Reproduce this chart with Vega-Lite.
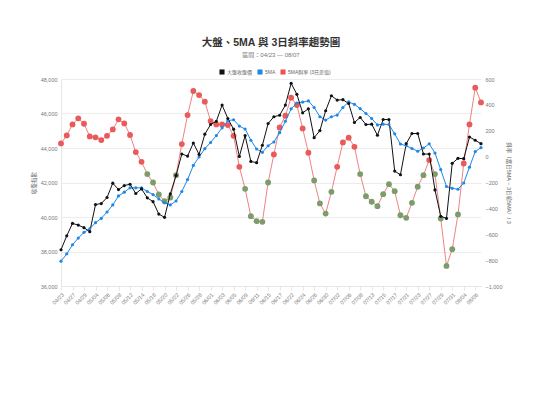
{
  "$schema": "https://vega.github.io/schema/vega-lite/v6.json",
  "width": 420,
  "height": 207,
  "autosize": {"type": "none"},
  "padding": {"left": 61, "top": 79, "right": 59, "bottom": 119},
  "background": "white",
  "title": {
    "text": "大盤、5MA 與 3日斜率趨勢圖",
    "subtitle": "區間：04/23 — 08/07",
    "anchor": "middle",
    "fontSize": 10.5,
    "fontWeight": "bold",
    "color": "#333333",
    "subtitleFontSize": 6,
    "subtitleColor": "#777777",
    "subtitlePadding": 4,
    "offset": 11
  },
  "data": {"values": [
    {"date": "04/23", "close": 38100, "ma5": 37440, "slope": 102},
    {"date": "04/24", "close": 38910, "ma5": 37860, "slope": 164},
    {"date": "04/27", "close": 39630, "ma5": 38390, "slope": 249},
    {"date": "04/28", "close": 39530, "ma5": 38780, "slope": 296},
    {"date": "04/29", "close": 39380, "ma5": 39110, "slope": 254},
    {"date": "04/30", "close": 39150, "ma5": 39320, "slope": 156},
    {"date": "05/04", "close": 40720, "ma5": 39670, "slope": 149},
    {"date": "05/05", "close": 40780, "ma5": 39920, "slope": 128},
    {"date": "05/06", "close": 41130, "ma5": 40290, "slope": 161},
    {"date": "05/07", "close": 41960, "ma5": 40700, "slope": 210},
    {"date": "05/08", "close": 41590, "ma5": 41220, "slope": 288},
    {"date": "05/11", "close": 41820, "ma5": 41440, "slope": 257},
    {"date": "05/12", "close": 41900, "ma5": 41690, "slope": 167},
    {"date": "05/13", "close": 41360, "ma5": 41690, "slope": 35},
    {"date": "05/14", "close": 41630, "ma5": 41690, "slope": -40},
    {"date": "05/15", "close": 41110, "ma5": 41480, "slope": -135},
    {"date": "05/18", "close": 40890, "ma5": 41300, "slope": -200},
    {"date": "05/19", "close": 40170, "ma5": 41050, "slope": -293},
    {"date": "05/20", "close": 39980, "ma5": 40820, "slope": -344},
    {"date": "05/21", "close": 41340, "ma5": 40700, "slope": -316},
    {"date": "05/22", "close": 42410, "ma5": 40930, "slope": -143},
    {"date": "05/25", "close": 43650, "ma5": 41480, "slope": 97},
    {"date": "05/26", "close": 43530, "ma5": 42170, "slope": 321},
    {"date": "05/27", "close": 44290, "ma5": 42990, "slope": 507},
    {"date": "05/28", "close": 43630, "ma5": 43480, "slope": 476},
    {"date": "05/29", "close": 44800, "ma5": 43960, "slope": 425},
    {"date": "06/01", "close": 45360, "ma5": 44320, "slope": 275},
    {"date": "06/02", "close": 45550, "ma5": 44720, "slope": 249},
    {"date": "06/03", "close": 46490, "ma5": 45170, "slope": 249},
    {"date": "06/04", "close": 45710, "ma5": 45580, "slope": 244},
    {"date": "06/05", "close": 45090, "ma5": 45640, "slope": 161},
    {"date": "06/08", "close": 43510, "ma5": 45270, "slope": -79},
    {"date": "06/09", "close": 44720, "ma5": 45100, "slope": -249},
    {"date": "06/10", "close": 43220, "ma5": 44450, "slope": -460},
    {"date": "06/11", "close": 43150, "ma5": 43940, "slope": -499},
    {"date": "06/12", "close": 44160, "ma5": 43750, "slope": -504},
    {"date": "06/15", "close": 45420, "ma5": 44130, "slope": -200},
    {"date": "06/16", "close": 45810, "ma5": 44350, "slope": 17},
    {"date": "06/17", "close": 45900, "ma5": 44890, "slope": 226},
    {"date": "06/18", "close": 46490, "ma5": 45550, "slope": 316},
    {"date": "06/22", "close": 47750, "ma5": 46270, "slope": 456},
    {"date": "06/23", "close": 47110, "ma5": 46610, "slope": 399},
    {"date": "06/24", "close": 46040, "ma5": 46660, "slope": 218},
    {"date": "06/25", "close": 46270, "ma5": 46730, "slope": 30},
    {"date": "06/26", "close": 44600, "ma5": 46350, "slope": -184},
    {"date": "06/29", "close": 45010, "ma5": 45810, "slope": -362},
    {"date": "06/30", "close": 46160, "ma5": 45620, "slope": -440},
    {"date": "07/01", "close": 47030, "ma5": 45810, "slope": -272},
    {"date": "07/02", "close": 46780, "ma5": 45910, "slope": -79},
    {"date": "07/03", "close": 46800, "ma5": 46350, "slope": 110},
    {"date": "07/06", "close": 46580, "ma5": 46670, "slope": 146},
    {"date": "07/07", "close": 45480, "ma5": 46530, "slope": 76},
    {"date": "07/08", "close": 45770, "ma5": 46280, "slope": -135},
    {"date": "07/09", "close": 45360, "ma5": 46000, "slope": -306},
    {"date": "07/13", "close": 45380, "ma5": 45710, "slope": -349},
    {"date": "07/14", "close": 44740, "ma5": 45340, "slope": -383},
    {"date": "07/15", "close": 45650, "ma5": 45380, "slope": -290},
    {"date": "07/16", "close": 45650, "ma5": 45360, "slope": -213},
    {"date": "07/17", "close": 42660, "ma5": 44820, "slope": -267},
    {"date": "07/20", "close": 42450, "ma5": 44230, "slope": -453},
    {"date": "07/21", "close": 44250, "ma5": 44130, "slope": -473},
    {"date": "07/22", "close": 44840, "ma5": 43970, "slope": -357},
    {"date": "07/23", "close": 44840, "ma5": 43810, "slope": -233},
    {"date": "07/24", "close": 43650, "ma5": 44000, "slope": -143},
    {"date": "07/27", "close": 43650, "ma5": 44240, "slope": -27},
    {"date": "07/28", "close": 41570, "ma5": 43710, "slope": -135},
    {"date": "07/29", "close": 40040, "ma5": 42750, "slope": -478},
    {"date": "07/30", "close": 39920, "ma5": 41770, "slope": -845},
    {"date": "07/31", "close": 43110, "ma5": 41660, "slope": -716},
    {"date": "08/03", "close": 43400, "ma5": 41610, "slope": -447},
    {"date": "08/04", "close": 43380, "ma5": 41970, "slope": -53},
    {"date": "08/05", "close": 44640, "ma5": 42890, "slope": 249},
    {"date": "08/06", "close": 44450, "ma5": 43790, "slope": 533},
    {"date": "08/07", "close": 44250, "ma5": 44020, "slope": 419}
  ]},
  "encoding": {
    "x": {
      "field": "date",
      "type": "ordinal",
      "sort": null,
      "scale": {"type": "point", "padding": 0},
      "axis": {
        "title": null,
        "values": ["04/23","04/27","04/29","05/04","05/06","05/08","05/12","05/14","05/18","05/20","05/22","05/26","05/28","06/01","06/03","06/05","06/09","06/11","06/15","06/17","06/22","06/24","06/26","06/30","07/02","07/06","07/08","07/13","07/15","07/17","07/21","07/23","07/27","07/29","07/31","08/04","08/06"],
        "labelAngle": -45,
        "labelFontSize": 5.5,
        "labelColor": "#777777",
        "labelPadding": 2,
        "tickSize": 4,
        "tickColor": "#e6e6e6",
        "domainColor": "#e6e6e6",
        "grid": false
      }
    }
  },
  "layer": [
    {
      "encoding": {
        "y": {
          "field": "slope",
          "type": "quantitative",
          "scale": {"domain": [-1000, 600], "nice": false, "zero": false},
          "axis": {
            "orient": "right",
            "title": "斜率（當日5MA − 3日前5MA）/ 3",
            "titleFontSize": 5.5,
            "titleFontWeight": "normal",
            "titleColor": "#666666",
            "titlePadding": 4,
            "values": [-1000, -800, -600, -400, -200, 0, 200, 400, 600],
            "format": ",.0f",
            "labelFontSize": 5.5,
            "labelColor": "#777777",
            "labelPadding": 4,
            "ticks": false,
            "domain": false,
            "grid": false
          }
        }
      },
      "layer": [
        {"mark": {"type": "line", "color": "#f08282", "strokeWidth": 1}, "encoding": {}},
        {
          "mark": {"type": "point", "filled": true, "size": 34, "opacity": 1},
          "encoding": {
            "color": {"condition": {"test": "datum.slope < -100", "value": "#7d9c6b"}, "value": "#ea5a5a"}
          }
        }
      ]
    },
    {
      "transform": [{"fold": ["ma5", "close"], "as": ["series", "v"]}],
      "encoding": {
        "y": {
          "field": "v",
          "type": "quantitative",
          "scale": {"domain": [36000, 48000], "nice": false, "zero": false},
          "axis": {
            "orient": "left",
            "title": "收盤指數",
            "titleFontSize": 5.5,
            "titleFontWeight": "normal",
            "titleColor": "#666666",
            "titlePadding": 4,
            "values": [36000, 38000, 40000, 42000, 44000, 46000, 48000],
            "format": ",.0f",
            "labelFontSize": 5.5,
            "labelColor": "#777777",
            "labelPadding": 4,
            "ticks": false,
            "domainColor": "#e6e6e6",
            "grid": true,
            "gridColor": "#ececec",
            "gridWidth": 1
          }
        },
        "color": {
          "field": "series",
          "type": "nominal",
          "scale": {"domain": ["close", "ma5", "slope"], "range": ["#111111", "#1f87e6", "#ef5350"]},
          "legend": {
            "title": null,
            "orient": "none",
            "legendX": 158,
            "legendY": -10,
            "direction": "horizontal",
            "symbolType": "square",
            "symbolSize": 26,
            "symbolStrokeWidth": 0,
            "labelFontSize": 5,
            "labelColor": "#666666",
            "labelOffset": 2,
            "columnPadding": 4,
            "labelExpr": "datum.label == 'close' ? '大盤收盤價' : (datum.label == 'ma5' ? '5MA' : '5MA斜率 (3日差值)')",
            "encode": {"symbols": {"update": {"fill": {"scale": "color", "field": "value"}, "stroke": {"value": "transparent"}}}}
          }
        }
      },
      "layer": [
        {"mark": {"type": "line", "strokeWidth": 1}, "encoding": {}},
        {"mark": {"type": "point", "filled": true, "size": 10, "opacity": 1}, "encoding": {}}
      ]
    }
  ],
  "resolve": {"scale": {"y": "independent"}},
  "config": {
    "font": "Liberation Sans, Noto Sans CJK TC, sans-serif",
    "view": {"stroke": null}
  }
}
